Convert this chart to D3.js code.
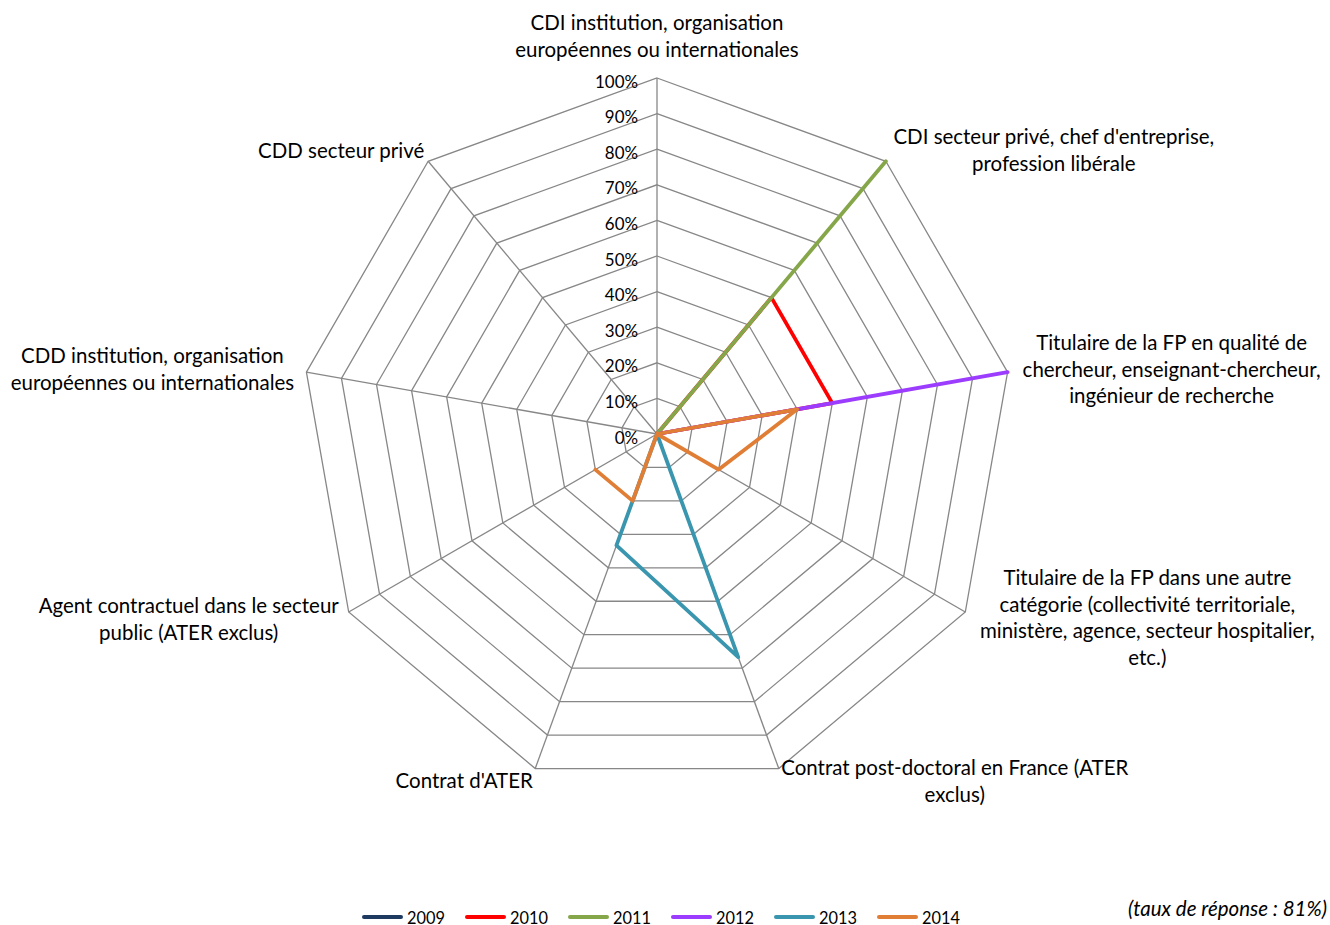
<!DOCTYPE html>
<html>
<head>
<meta charset="utf-8">
<script src="https://cdn.jsdelivr.net/npm/d3@7"></script>
<style>
  html, body { margin: 0; padding: 0; background: #fff; }
  svg { display: block; }
</style>
</head>
<body>
<svg id="chart" width="1330" height="925"></svg>
<script>
// ---------------- DATA ----------------
const categories = [
  ["CDI institution, organisation", "européennes ou internationales"],
  ["CDI secteur privé, chef d'entreprise,", "profession libérale"],
  ["Titulaire de la FP en qualité de", "chercheur, enseignant-chercheur,", "ingénieur de recherche"],
  ["Titulaire de la FP dans une autre", "catégorie (collectivité territoriale,", "ministère, agence, secteur hospitalier,", "etc.)"],
  ["Contrat post-doctoral en France (ATER", "exclus)"],
  ["Contrat d'ATER"],
  ["Agent contractuel dans le secteur", "public (ATER exclus)"],
  ["CDD institution, organisation", "européennes ou internationales"],
  ["CDD secteur privé"]
];
const years = ["2009", "2010", "2011", "2012", "2013", "2014"];
const values2009 = [0, 0, 0, 0, 0, 0, 0, 0, 0];
const values2010 = [0, 50, 50, 0, 0, 0, 0, 0, 0];
const values2011 = [0, 100, 0, 0, 0, 0, 0, 0, 0];
const values2012 = [0, 0, 100, 0, 0, 0, 0, 0, 0];
const values2013 = [0, 0, 0, 0, 66.7, 33.3, 0, 0, 0];
const values2014 = [0, 0, 40, 20, 0, 20, 20, null, null];
const tickValues = [0, 10, 20, 30, 40, 50, 60, 70, 80, 90, 100];
const footnote = "(taux de réponse : 81%)";

// ---------------- LAYOUT / STYLE ----------------
const seriesValues = [values2009, values2010, values2011, values2012, values2013, values2014];
const colors = ["#1F3A60", "#FF0000", "#86A64A", "#9B3CFF", "#3A95AE", "#E07E36"];
const W = 1330, H = 925;
const cx = 657, cy = 434, R = 356;
const FONT = "Lato, 'Open Sans', sans-serif";
const labelLayout = [
  {dx: 0, dy: -48}, {dx: 168, dy: -17}, {dx: 164, dy: -22}, {dx: 182, dy: -27},
  {dx: 176, dy: 6.5}, {dx: -71, dy: 19.5}, {dx: -160, dy: 1}, {dx: -154, dy: -9}, {dx: -87, dy: -3}
];
const lineHeight = 26.5;

const svg = d3.select("#chart");

// Measure a font size that gives Calibri-like widths
function fitSize(str, targetWidth, italic) {
  const t = svg.append("text").attr("font-family", FONT).attr("font-size", 20)
    .attr("font-style", italic ? "italic" : "normal").text(str);
  const w = t.node().getComputedTextLength();
  t.remove();
  return 20 * targetWidth / w;
}
const labelSize = fitSize("chercheur, enseignant-chercheur,", 298);
const tickSize = fitSize("100%", 43);
const legendSize = fitSize("2009", 38);
const noteSize = fitSize(footnote, 199, true);

// ---------------- SCALES ----------------
const n = categories.length;
const r = d3.scaleLinear().domain([0, 100]).range([0, R]);
const angle = d3.scaleLinear().domain([0, n]).range([0, 2 * Math.PI]);
const px = (i, v) => cx + r(v) * Math.sin(angle(i));
const py = (i, v) => cy - r(v) * Math.cos(angle(i));

const g = svg.append("g");

// grid rings
const ringLine = d3.line().x(d => d[0]).y(d => d[1]).curve(d3.curveLinearClosed);
tickValues.filter(t => t > 0).forEach(t => {
  const pts = d3.range(n).map(i => [px(i, t), py(i, t)]);
  g.append("path").attr("d", ringLine(pts))
    .attr("fill", "none").attr("stroke", "#878787").attr("stroke-width", 1.3);
});
// spokes
d3.range(n).forEach(i => {
  g.append("line")
    .attr("x1", px(i, 0)).attr("y1", py(i, 0))
    .attr("x2", px(i, 100)).attr("y2", py(i, 100))
    .attr("stroke", "#878787").attr("stroke-width", 1.3);
});

// tick labels
g.selectAll("text.tick").data(tickValues).join("text")
  .attr("class", "tick")
  .attr("x", cx - 19)
  .attr("y", d => py(0, d) + 3)
  .attr("text-anchor", "end")
  .attr("dominant-baseline", "central")
  .attr("font-family", FONT).attr("font-size", tickSize)
  .attr("fill", "#000")
  .text(d => d + "%");

// category labels
categories.forEach((lines, i) => {
  const lay = labelLayout[i];
  const x0 = px(i, 100) + lay.dx;
  const y0 = py(i, 100) + lay.dy;
  const t = g.append("text")
    .attr("font-family", FONT).attr("font-size", labelSize)
    .attr("text-anchor", "middle").attr("fill", "#000");
  lines.forEach((ln, k) => {
    t.append("tspan").attr("x", x0).attr("y", y0 + k * lineHeight).text(ln);
  });
});

// series
const line = d3.line()
  .defined(d => d.v != null)
  .x(d => px(d.i, d.v)).y(d => py(d.i, d.v))
  .curve(d3.curveLinear);
seriesValues.forEach((vals, s) => {
  const pts = vals.map((v, i) => ({i, v}));
  pts.push({i: n, v: vals[0]});
  g.append("path").attr("d", line(pts))
    .attr("fill", "none").attr("stroke", colors[s])
    .attr("stroke-width", 3.8)
    .attr("stroke-linejoin", "round").attr("stroke-linecap", "round");
});

// legend
const legendX = d3.scalePoint().domain(years).range([364, 879]);
const leg = svg.append("g");
years.forEach((y, s) => {
  const x = legendX(y);
  leg.append("line").attr("x1", x).attr("x2", x + 37).attr("y1", 917).attr("y2", 917)
    .attr("stroke", colors[s]).attr("stroke-width", 4).attr("stroke-linecap", "round");
  leg.append("text").attr("x", x + 43).attr("y", 917).attr("dominant-baseline", "central")
    .attr("font-family", FONT).attr("font-size", legendSize).attr("fill", "#000").text(y);
});

// footnote
svg.append("text").attr("x", 1327).attr("y", 908)
  .attr("text-anchor", "end").attr("dominant-baseline", "central")
  .attr("font-family", FONT).attr("font-size", noteSize).attr("font-style", "italic")
  .attr("fill", "#000").text(footnote);
</script>
</body>
</html>
